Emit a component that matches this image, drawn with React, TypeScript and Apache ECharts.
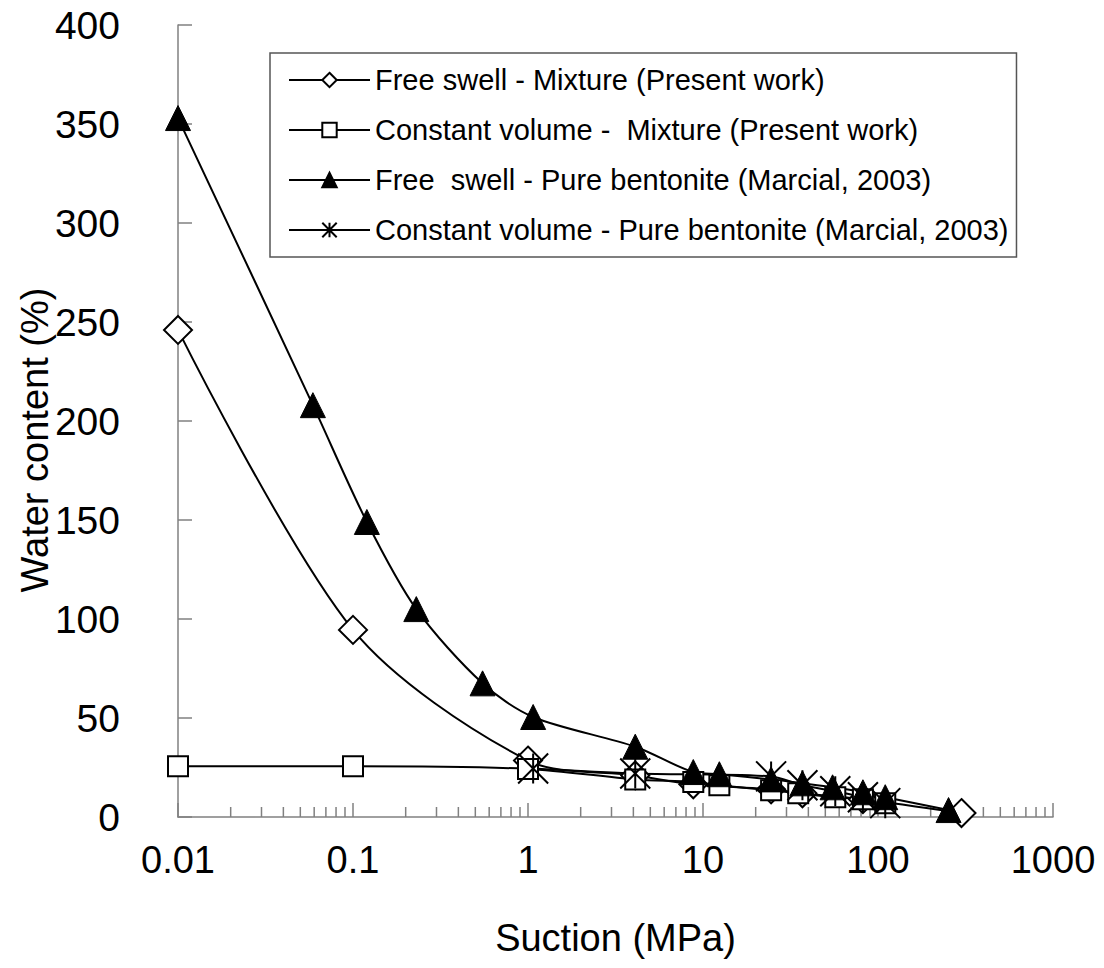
import React, { useEffect, useRef } from "react";
import * as echarts from "echarts";

const xTickLabels = ["0.01", "0.1", "1", "10", "100", "1000"];
const yTicks = [0, 50, 100, 150, 200, 250, 300, 350, 400];

const seriesNames = [
  "Free swell - Mixture (Present work)",
  "Constant volume -  Mixture (Present work)",
  "Free  swell - Pure bentonite (Marcial, 2003)",
  "Constant volume - Pure bentonite (Marcial, 2003)",
];

// [suction (MPa), water content (%)]
const freeSwellMixture = [
  [0.01, 246], [0.1, 94.5], [1.0, 28.5], [4.1, 21], [8.8, 16.5],
  [24.5, 14], [37, 12], [82, 9], [300, 2],
];
const constVolMixture = [
  [0.01, 25.6], [0.1, 25.6], [1.0, 24.3], [4.1, 19], [8.8, 17.7],
  [12.4, 16], [24.5, 13.5], [35, 12], [57, 10], [82, 9], [110, 7],
];
const freeSwellBentonite = [
  [0.01, 353], [0.059, 208], [0.12, 149], [0.23, 105], [0.55, 67.5],
  [1.07, 50.5], [4.1, 35.5], [8.8, 22.7], [12.4, 21.6], [24.5, 19],
  [37, 17], [55, 15], [82, 12.5], [110, 10], [253, 3.5],
];
const constVolBentonite = [
  [1.07, 24.5], [4.1, 22], [24.5, 20.5], [37, 16], [57, 13], [82, 10], [110, 7],
];

const minorMultipliers = [2, 3, 4, 5, 6, 7, 8, 9];
const decades = [0.01, 0.1, 1, 10, 100];
const majorTicks = [0.01, 0.1, 1, 10, 100, 1000];

const STAR = "path://M0,0L10,10M10,0L0,10M5,0L5,10";

export default function App() {
  const ref = useRef<HTMLDivElement>(null);
  useEffect(() => {
    const chart = echarts.init(ref.current!, null, { renderer: "svg" });
    const ticks: number[][] = [];
    decades.forEach((d) => minorMultipliers.forEach((m) => ticks.push([+(d * m).toPrecision(3), 10])));
    majorTicks.forEach((m) => ticks.push([m, 14]));

    const font = "Liberation Sans";
    const axisColor = "#808080";
    const base = {
      type: "line" as const,
      smooth: 0.3,
      lineStyle: { color: "#000", width: 2 },
      itemStyle: { color: "#fff", borderColor: "#000", borderWidth: 2 },
      showSymbol: true,
    };
    chart.setOption({
      animation: false,
      backgroundColor: "#fff",
      grid: { left: 178, top: 25, width: 875, height: 792, containLabel: false },
      legend: {
        orient: "vertical",
        left: 270,
        top: 53,
        padding: [12, 8, 12, 18],
        itemGap: 20,
        itemWidth: 81,
        itemHeight: 18,
        borderColor: "#555",
        borderWidth: 1.5,
        backgroundColor: "#fff",
        textStyle: { fontFamily: font, fontSize: 29, color: "#000", lineHeight: 30 },
        data: seriesNames,
      },
      graphic: [
        {
          type: "text",
          x: 35,
          y: 440,
          rotation: Math.PI / 2,
          style: {
            text: "Water content (%)",
            fontFamily: font,
            fontSize: 38,
            fill: "#000",
            align: "center",
            verticalAlign: "middle",
          },
        },
      ],
      xAxis: {
        type: "log",
        logBase: 10,
        min: 0.01,
        max: 1000,
        name: "Suction (MPa)",
        nameLocation: "middle",
        nameGap: 102,
        nameTextStyle: { fontFamily: font, fontSize: 38, color: "#000" },
        axisLine: { lineStyle: { color: axisColor, width: 1.5 } },
        axisTick: { show: false },
        splitLine: { show: false },
        axisLabel: {
          fontFamily: font,
          fontSize: 38,
          color: "#000",
          margin: 24,
          formatter: (v: number) => {
            const s = parseFloat(v.toPrecision(3)).toString();
            return xTickLabels.includes(s) ? s : "";
          },
        },
      },
      yAxis: {
        type: "value",
        min: 0,
        max: 400,
        interval: 50,
        axisLine: { show: true, lineStyle: { color: axisColor, width: 1.5 } },
        axisTick: { show: true, inside: true, length: 14, lineStyle: { color: axisColor, width: 1.5 } },
        splitLine: { show: false },
        axisLabel: {
          fontFamily: font,
          fontSize: 39,
          color: "#000",
          margin: 58,
          formatter: (v: number) => (yTicks.includes(v) ? String(v) : ""),
        },
      },
      series: [
        {
          type: "custom",
          silent: true,
          z: 1,
          data: ticks,
          renderItem: (_p: any, api: any) => {
            const pt = api.coord([api.value(0), 0]);
            const len = api.value(1);
            return {
              type: "line",
              shape: { x1: pt[0], y1: pt[1], x2: pt[0], y2: pt[1] - len },
              style: { stroke: axisColor, lineWidth: 1.5 },
            };
          },
        },
        { ...base, name: seriesNames[0], data: freeSwellMixture, symbol: "diamond", symbolSize: 28 },
        { ...base, name: seriesNames[1], data: constVolMixture, symbol: "rect", symbolSize: 20 },
        {
          ...base,
          name: seriesNames[2],
          data: freeSwellBentonite,
          symbol: "triangle",
          symbolSize: 25,
          itemStyle: { color: "#000", borderColor: "#000", borderWidth: 1 },
        },
        {
          ...base,
          name: seriesNames[3],
          data: constVolBentonite,
          symbol: STAR,
          symbolSize: 30,
          itemStyle: { color: "none", borderColor: "#000", borderWidth: 2 },
        },
      ],
    });
    return () => chart.dispose();
  }, []);
  return (
    <div
      ref={ref}
      style={{ position: "fixed", left: 0, top: 0, width: 1104, height: 968, background: "#fff" }}
    />
  );
}
